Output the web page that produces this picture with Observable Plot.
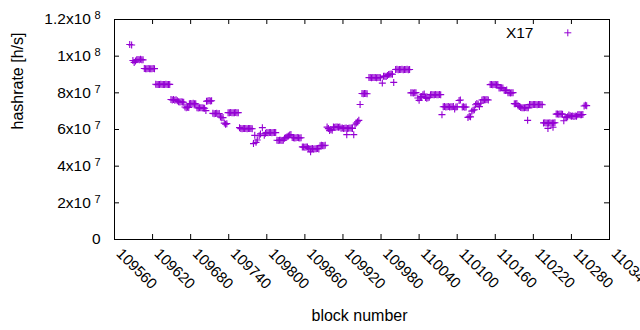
<!DOCTYPE html>
<html>
<head>
<meta charset="utf-8">
<script src="https://cdn.jsdelivr.net/npm/d3@7"></script>
<script src="https://cdn.jsdelivr.net/npm/@observablehq/plot@0.6"></script>
<style>
html, body { margin: 0; padding: 0; background: #fff; }
#chart svg { display: block; }
</style>
</head>
<body>
<div id="chart"></div>
<script>
const seriesName = "X17";
const xLabel = "block number";
const yLabel = "hashrate [h/s]";
const xTicks = [109560, 109620, 109680, 109740, 109800, 109860, 109920, 109980, 110040, 110100, 110160, 110220, 110280, 110340];
const yTicks = [0, 2e7, 4e7, 6e7, 8e7, 1e8, 1.2e8];
const yTickLabels = ["0", "2x10^7", "4x10^7", "6x10^7", "8x10^7", "1x10^8", "1.2x10^8"];

// [block number, hashrate in units of 1e6 h/s]
const samples = [
 [109584,106.4],[109587,106.1],
 [109589,97.6],[109591,96.6],[109593,97.3],
 [109595,98.0],[109597,98.2],[109599,98.1],[109601,98.3],[109603,98.1],[109605,98.0],
 [109607,93.3],[109609,93.1],[109611,93.2],[109613,93.3],[109615,93.2],[109617,93.1],[109619,93.2],[109621,93.3],[109623,93.2],
 [109625,84.7],[109627,84.5],[109629,84.6],[109631,84.6],[109633,84.7],[109635,84.5],[109637,84.6],[109639,84.6],[109641,84.7],[109643,84.5],[109645,84.6],[109647,84.6],
 [109649,76.4],[109651,76.1],[109653,76.3],[109655,76.0],[109657,76.2],[109659,75.7],[109661,75.2],[109663,75.0],[109665,75.1],[109667,75.0],[109669,74.9],
 [109671,72.3],[109673,71.8],[109675,72.2],[109677,72.0],
 [109678,74.0],[109680,74.2],[109682,74.1],[109684,74.3],[109686,74.1],[109688,74.0],
 [109690,71.9],[109692,71.7],[109694,71.8],[109696,71.8],[109698,71.9],[109700,71.7],[109702,71.6],
 [109704,70.3],[109705,75.4],
 [109707,75.6],[109709,75.8],[109711,75.5],[109713,75.7],
 [109715,68.8],[109717,68.6],[109719,68.7],[109721,68.8],[109723,68.6],[109725,68.7],
 [109727,66.8],[109729,66.4],[109731,66.5],
 [109733,63.5],[109735,62.9],[109737,63.2],
 [109739,69.2],[109741,69.1],[109743,69.3],[109745,69.2],[109747,69.2],[109749,69.1],[109751,69.3],[109753,69.2],[109755,69.2],
 [109757,61.0],[109759,60.5],[109761,60.4],[109763,60.5],[109765,60.6],[109767,60.5],[109769,60.4],[109771,60.5],[109773,60.6],[109775,60.5],[109777,60.4],
 [109779,52.3],[109781,56.8],[109783,53.0],[109785,54.3],[109788,56.6],[109790,57.6],[109793,61.0],[109796,56.8],[109798,58.0],
 [109800,58.3],[109802,58.2],[109804,58.4],[109806,58.3],[109808,58.2],[109810,58.3],[109812,58.4],[109814,58.3],
 [109816,54.1],[109818,54.0],[109820,54.2],[109822,54.1],[109824,54.0],[109826,54.2],
 [109828,55.2],[109830,55.6],[109832,56.0],[109834,56.5],[109836,57.0],[109838,57.3],
 [109840,55.6],[109842,55.5],[109844,55.4],[109846,55.5],[109848,55.6],[109850,55.5],[109852,55.4],[109854,55.5],
 [109856,50.5],[109858,50.4],[109860,50.3],[109862,50.4],[109864,50.5],
 [109866,49.6],[109868,49.4],[109869,47.8],[109870,49.5],[109872,49.6],[109874,49.4],[109876,49.5],[109878,49.5],[109880,49.6],[109882,49.4],
 [109884,51.2],[109886,51.4],[109888,51.3],[109890,51.2],[109892,51.4],
 [109895,61.3],[109897,60.5],[109899,59.4],[109901,60.0],[109903,59.6],
 [109905,61.4],[109907,61.2],[109909,61.3],[109911,61.4],[109913,61.2],[109915,61.3],
 [109917,60.7],[109919,60.8],[109921,60.6],[109923,60.7],[109925,60.8],[109926,57.2],[109927,60.6],[109929,60.7],[109931,60.8],[109933,60.7],[109935,60.6],[109937,57.2],
 [109939,62.6],[109941,63.5],[109943,64.2],[109945,65.0],
 [109947,73.6],
 [109950,79.6],[109952,79.5],[109954,79.7],[109956,79.6],[109958,79.5],
 [109961,88.3],[109963,88.4],[109965,88.2],[109967,88.3],[109969,88.3],[109971,88.4],[109973,88.2],[109975,88.3],[109977,88.3],[109979,88.2],
 [109982,85.3],
 [109984,89.0],[109986,89.1],[109988,88.9],[109990,89.4],[109992,90.0],[109994,90.2],[109996,90.3],[109998,90.1],
 [110000,85.7],
 [110003,92.7],[110005,92.8],[110007,92.6],[110009,92.7],[110011,92.7],[110013,92.8],[110015,92.6],[110017,92.7],[110019,92.7],[110021,92.8],[110023,92.6],[110025,92.7],
 [110027,80.0],[110029,80.1],[110031,79.9],[110033,80.0],[110035,80.1],
 [110038,77.2],[110040,75.9],[110042,77.8],[110044,78.0],[110046,79.0],[110048,79.4],[110050,77.4],[110052,77.0],[110054,77.3],[110056,77.6],
 [110058,79.0],[110060,79.1],[110062,78.9],[110064,79.0],[110066,79.1],[110068,78.9],[110070,79.0],[110072,79.1],[110074,79.0],
 [110076,68.1],
 [110078,72.4],[110080,72.5],[110082,72.3],[110084,72.4],[110086,72.5],[110088,72.3],[110090,72.4],[110092,72.4],[110094,72.5],[110096,71.2],[110098,72.3],[110100,72.4],
 [110103,75.8],[110105,76.1],
 [110108,72.3],[110110,72.4],[110112,72.2],[110114,72.3],
 [110117,66.6],[110119,67.2],[110121,66.9],
 [110123,70.0],[110125,70.5],[110127,70.8],
 [110129,73.5],[110131,74.2],[110133,73.8],[110135,72.5],[110137,74.3],
 [110139,76.1],[110141,76.3],[110143,76.2],[110145,76.2],[110147,76.3],[110149,76.1],
 [110152,84.5],[110154,84.6],[110156,84.4],[110158,84.5],[110160,84.6],[110162,84.4],[110164,84.5],
 [110166,82.7],[110168,82.6],[110170,82.8],[110172,82.6],
 [110174,81.4],[110176,81.3],[110178,81.5],
 [110180,80.0],[110182,80.1],[110184,79.9],[110186,80.0],[110188,80.1],
 [110190,74.1],[110192,74.0],[110194,74.2],
 [110196,72.9],[110198,72.6],
 [110200,72.0],[110202,71.9],[110204,71.8],[110206,71.9],[110208,72.0],[110210,71.9],[110211,65.0],[110212,71.8],
 [110214,73.6],[110216,73.7],[110218,73.5],[110220,73.6],[110222,73.6],[110224,73.7],[110226,73.5],[110228,73.6],[110230,73.6],[110232,73.7],[110234,73.5],
 [110236,63.6],[110238,63.7],[110240,63.5],[110242,63.6],[110243,60.6],[110244,63.6],[110246,63.7],[110248,63.4],[110250,63.6],[110251,61.2],[110252,63.6],[110254,63.7],
 [110256,68.4],[110258,68.5],[110260,68.3],[110262,68.4],[110264,68.5],[110266,68.3],
 [110268,64.8],
 [110270,66.8],[110272,66.6],[110274,66.9],[110276,67.9],[110278,67.5],[110280,67.2],[110282,67.3],[110284,67.1],[110286,67.3],[110288,67.2],
 [110290,68.0],[110292,68.2],[110294,68.1],[110296,68.0],[110298,68.2],
 [110300,72.8],[110302,73.2],[110304,73.0]
];

const data = samples.map(([block, mh]) => ({block, hashrate: mh * 1e6}));

const purple = "#9400d3";
const plus = {
  draw(ctx, size) {
    const h = Math.sqrt(size / Math.PI);
    ctx.moveTo(-h, 0); ctx.lineTo(h, 0);
    ctx.moveTo(0, -h); ctx.lineTo(0, h);
  }
};

const chart = Plot.plot({
  width: 640,
  height: 330,
  marginLeft: 114,
  marginRight: 31,
  marginTop: 19,
  marginBottom: 91,
  style: {fontFamily: "'Liberation Sans', Arial, sans-serif", fontSize: "15.5px", background: "#fff", color: "#000", overflow: "hidden"},
  x: {domain: [109560, 110340], label: null},
  y: {domain: [0, 1.2e8], label: null},
  marks: [
    Plot.axisX({ticks: xTicks, tickSize: 0, tickRotate: 45, tickPadding: 15, dx: 1, textAnchor: "start", lineAnchor: "bottom", tickFormat: d => String(d), label: null, fill: "#000", fontSize: "15px"}),
    Plot.axisY({ticks: yTicks, tickSize: 0, tickPadding: 14, tickFormat: d => yTickLabels[yTicks.indexOf(d)], label: null, fill: "#000", fontSize: "15.5px"}),
    Plot.tickX(xTicks, {x: d => d, insetTop: 215, stroke: "#000"}),
    Plot.tickX(xTicks, {x: d => d, insetBottom: 215, stroke: "#000"}),
    Plot.tickY(yTicks, {y: d => d, insetRight: 490, stroke: "#000"}),
    Plot.tickY(yTicks, {y: d => d, insetLeft: 490, stroke: "#000"}),
    Plot.dot(data, {x: "block", y: "hashrate", symbol: plus, r: 3.5, fill: "none", stroke: purple, strokeWidth: 1.1}),
    Plot.frame({stroke: "#000"}),
    Plot.text([seriesName], {text: d => d, frameAnchor: "top-right", dx: -76, dy: 18.7, textAnchor: "end", lineAnchor: "bottom", fontSize: "15.5px", fill: "#000"}),
    Plot.dot([seriesName], {frameAnchor: "top-right", dx: -41.7, dy: 13.3, symbol: plus, r: 3.5, fill: "none", stroke: purple, strokeWidth: 1}),
    Plot.text([yLabel], {text: d => d, frameAnchor: "left", dx: -96.5, rotate: -90, fontSize: "16px", fill: "#000"}),
    Plot.text([xLabel], {text: d => d, frameAnchor: "bottom", dx: -2.5, dy: 81.7, lineAnchor: "bottom", fontSize: "16px", fill: "#000"})
  ]
});

// superscript exponents on the y tick labels
chart.querySelectorAll('g[aria-label="y-axis tick label"] text').forEach(t => {
  const s = t.textContent;
  const k = s.indexOf("^");
  if (k < 0) return;
  t.textContent = s.slice(0, k);
  const sup = document.createElementNS("http://www.w3.org/2000/svg", "tspan");
  sup.setAttribute("dx", "3.5");
  sup.setAttribute("dy", "-5");
  sup.setAttribute("font-size", "11px");
  sup.textContent = s.slice(k + 1);
  t.appendChild(sup);
});

document.getElementById("chart").appendChild(chart);
</script>
</body>
</html>
